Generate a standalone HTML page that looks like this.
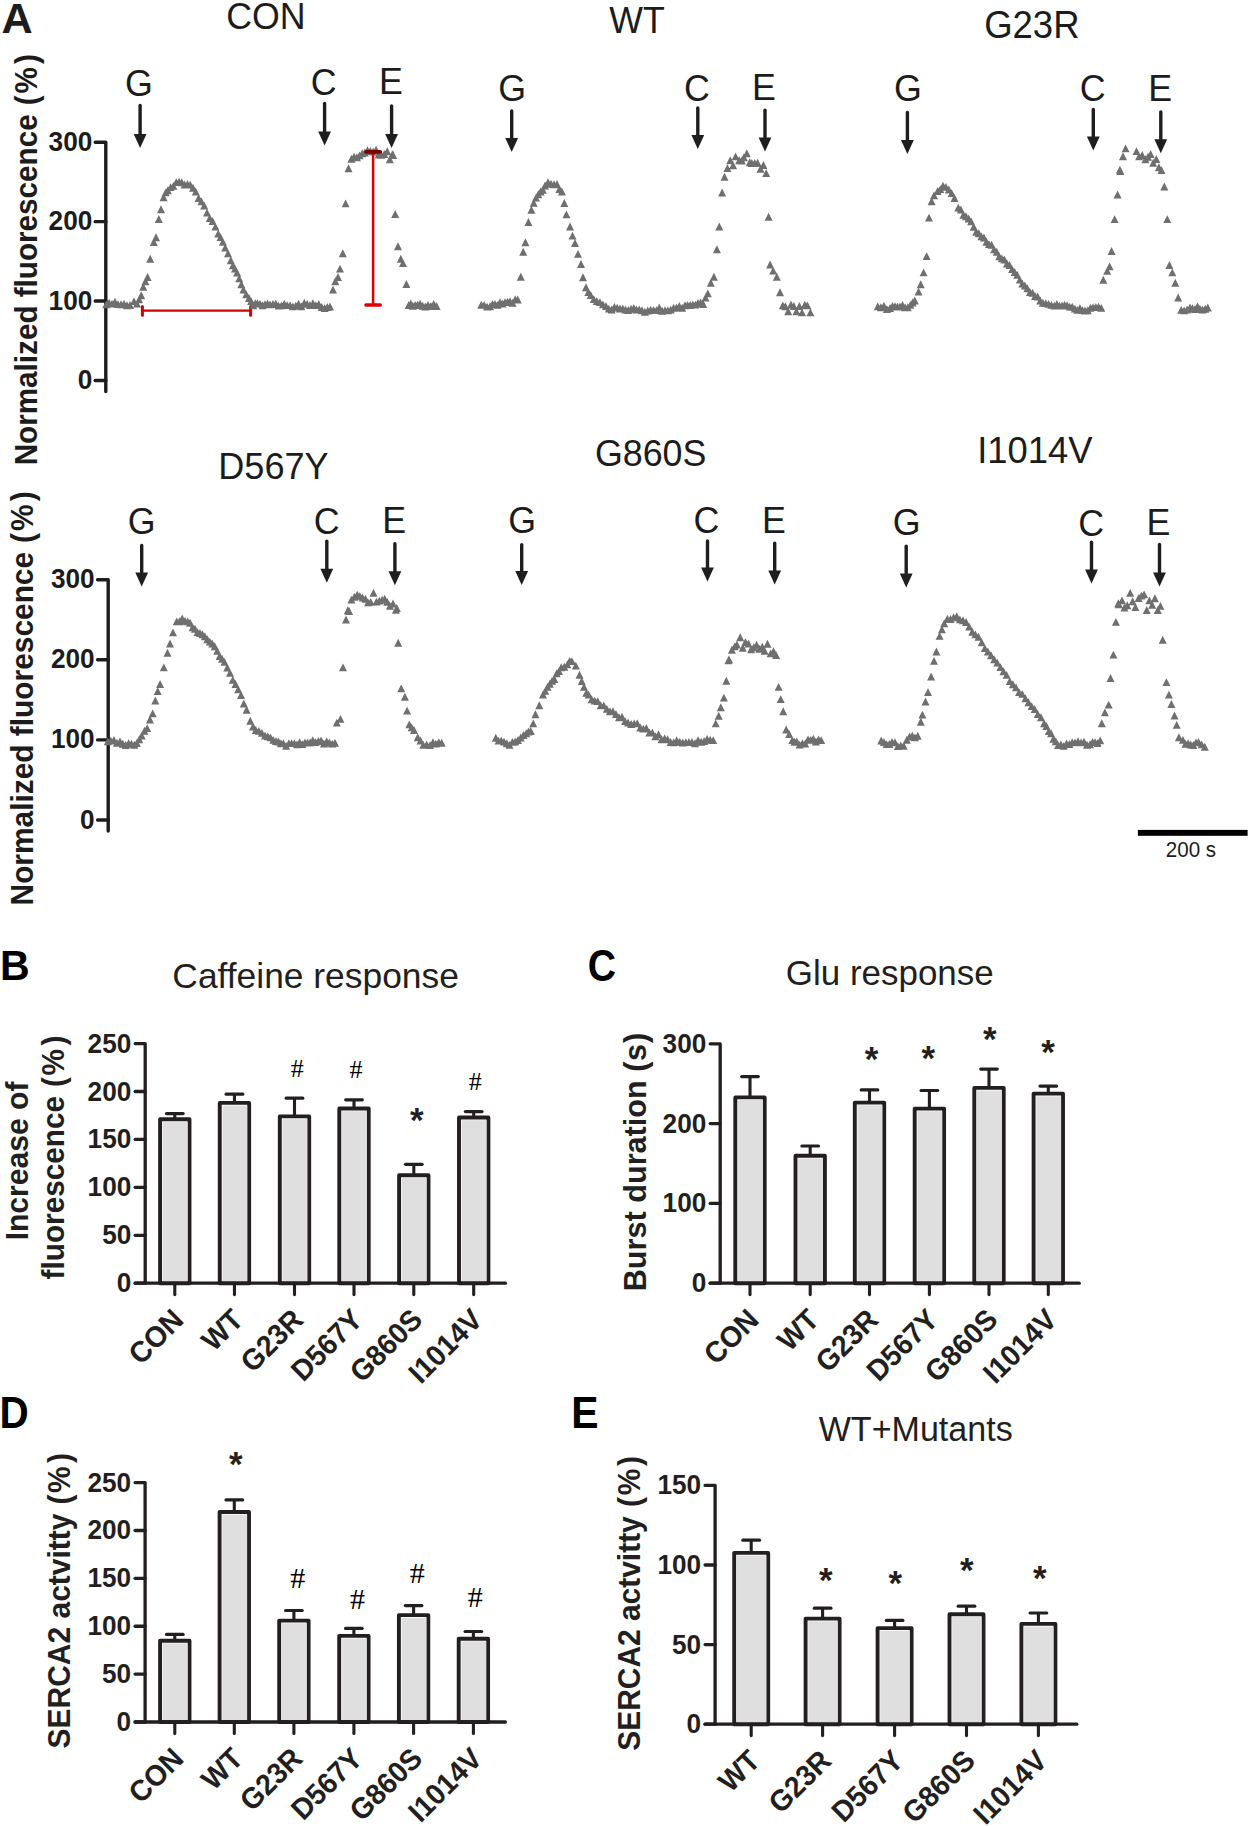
<!DOCTYPE html>
<html><head><meta charset="utf-8"><title>Figure</title>
<style>html,body{margin:0;padding:0;background:#fff;}svg{display:block;}</style>
</head><body>
<svg width="1250" height="1826" viewBox="0 0 1250 1826">
<rect width="1250" height="1826" fill="#fff"/>
<text x="1.42" y="33" font-family="'Liberation Sans', Arial, sans-serif" font-size="43.2" font-weight="bold" fill="#1c1c1c">A</text>
<text transform="translate(226.22,28.8) scale(1.0,1.04)" font-family="'Liberation Sans', Arial, sans-serif" font-size="35.7" font-weight="normal" fill="#1c1c1c">CON</text>
<text transform="translate(609.3,33) scale(1.0,1.04)" font-family="'Liberation Sans', Arial, sans-serif" font-size="35.7" font-weight="normal" fill="#1c1c1c">WT</text>
<text transform="translate(984.17,37.6) scale(1.0,1.04)" font-family="'Liberation Sans', Arial, sans-serif" font-size="36.5" font-weight="normal" fill="#1c1c1c">G23R</text>
<text transform="translate(218.31,478.8) scale(1.0,1.04)" font-family="'Liberation Sans', Arial, sans-serif" font-size="36.1" font-weight="normal" fill="#1c1c1c">D567Y</text>
<text transform="translate(594.91,465.7) scale(1.0,1.04)" font-family="'Liberation Sans', Arial, sans-serif" font-size="35.8" font-weight="normal" fill="#1c1c1c">G860S</text>
<text transform="translate(977.22,463) scale(1.0,1.04)" font-family="'Liberation Sans', Arial, sans-serif" font-size="36.4" font-weight="normal" fill="#1c1c1c">I1014V</text>
<line x1="140.1" y1="105.5" x2="140.1" y2="135" stroke="#1e1e1e" stroke-width="3.4" stroke-linecap="round"/>
<path d="M133.7 134H146.5L140.1 148Z" fill="#1e1e1e"/>
<line x1="324.6" y1="103.5" x2="324.6" y2="132.6" stroke="#1e1e1e" stroke-width="3.4" stroke-linecap="round"/>
<path d="M318.2 131.6H331L324.6 145.6Z" fill="#1e1e1e"/>
<line x1="391.6" y1="105.9" x2="391.6" y2="135" stroke="#1e1e1e" stroke-width="3.4" stroke-linecap="round"/>
<path d="M385.2 134H398L391.6 148Z" fill="#1e1e1e"/>
<text transform="translate(124.99,96) scale(1.0,1.04)" font-family="'Liberation Sans', Arial, sans-serif" font-size="35.8" font-weight="normal" fill="#1c1c1c">G</text>
<text transform="translate(310.64,95) scale(1.0,1.04)" font-family="'Liberation Sans', Arial, sans-serif" font-size="35.8" font-weight="normal" fill="#1c1c1c">C</text>
<text transform="translate(378.88,94) scale(1.0,1.04)" font-family="'Liberation Sans', Arial, sans-serif" font-size="35.8" font-weight="normal" fill="#1c1c1c">E</text>
<line x1="511.7" y1="111" x2="511.7" y2="139" stroke="#1e1e1e" stroke-width="3.4" stroke-linecap="round"/>
<path d="M505.3 138H518.1L511.7 152Z" fill="#1e1e1e"/>
<line x1="697.8" y1="107.9" x2="697.8" y2="136" stroke="#1e1e1e" stroke-width="3.4" stroke-linecap="round"/>
<path d="M691.4 135H704.2L697.8 149Z" fill="#1e1e1e"/>
<line x1="765" y1="110.3" x2="765" y2="138.4" stroke="#1e1e1e" stroke-width="3.4" stroke-linecap="round"/>
<path d="M758.6 137.4H771.4L765 151.4Z" fill="#1e1e1e"/>
<text transform="translate(498.19,101) scale(1.0,1.04)" font-family="'Liberation Sans', Arial, sans-serif" font-size="35.8" font-weight="normal" fill="#1c1c1c">G</text>
<text transform="translate(684.04,101.3) scale(1.0,1.04)" font-family="'Liberation Sans', Arial, sans-serif" font-size="35.8" font-weight="normal" fill="#1c1c1c">C</text>
<text transform="translate(752.08,100.2) scale(1.0,1.04)" font-family="'Liberation Sans', Arial, sans-serif" font-size="35.8" font-weight="normal" fill="#1c1c1c">E</text>
<line x1="907.4" y1="112.5" x2="907.4" y2="141" stroke="#1e1e1e" stroke-width="3.4" stroke-linecap="round"/>
<path d="M901 140H913.8L907.4 154Z" fill="#1e1e1e"/>
<line x1="1093.3" y1="109.5" x2="1093.3" y2="137.4" stroke="#1e1e1e" stroke-width="3.4" stroke-linecap="round"/>
<path d="M1086.9 136.4H1099.7L1093.3 150.4Z" fill="#1e1e1e"/>
<line x1="1160.8" y1="111.9" x2="1160.8" y2="140.3" stroke="#1e1e1e" stroke-width="3.4" stroke-linecap="round"/>
<path d="M1154.4 139.3H1167.2L1160.8 153.3Z" fill="#1e1e1e"/>
<text transform="translate(893.89,100.6) scale(1.0,1.04)" font-family="'Liberation Sans', Arial, sans-serif" font-size="35.8" font-weight="normal" fill="#1c1c1c">G</text>
<text transform="translate(1079.64,101) scale(1.0,1.04)" font-family="'Liberation Sans', Arial, sans-serif" font-size="35.8" font-weight="normal" fill="#1c1c1c">C</text>
<text transform="translate(1148.28,100.6) scale(1.0,1.04)" font-family="'Liberation Sans', Arial, sans-serif" font-size="35.8" font-weight="normal" fill="#1c1c1c">E</text>
<line x1="141.7" y1="545.5" x2="141.7" y2="573.4" stroke="#1e1e1e" stroke-width="3.4" stroke-linecap="round"/>
<path d="M135.3 572.4H148.1L141.7 586.4Z" fill="#1e1e1e"/>
<line x1="326.8" y1="541.2" x2="326.8" y2="569.7" stroke="#1e1e1e" stroke-width="3.4" stroke-linecap="round"/>
<path d="M320.4 568.7H333.2L326.8 582.7Z" fill="#1e1e1e"/>
<line x1="394.9" y1="543.8" x2="394.9" y2="572.3" stroke="#1e1e1e" stroke-width="3.4" stroke-linecap="round"/>
<path d="M388.5 571.3H401.3L394.9 585.3Z" fill="#1e1e1e"/>
<text transform="translate(127.79,533.8) scale(1.0,1.04)" font-family="'Liberation Sans', Arial, sans-serif" font-size="35.8" font-weight="normal" fill="#1c1c1c">G</text>
<text transform="translate(313.74,534) scale(1.0,1.04)" font-family="'Liberation Sans', Arial, sans-serif" font-size="35.8" font-weight="normal" fill="#1c1c1c">C</text>
<text transform="translate(382.18,533.3) scale(1.0,1.04)" font-family="'Liberation Sans', Arial, sans-serif" font-size="35.8" font-weight="normal" fill="#1c1c1c">E</text>
<line x1="521.7" y1="544.6" x2="521.7" y2="572" stroke="#1e1e1e" stroke-width="3.4" stroke-linecap="round"/>
<path d="M515.3 571H528.1L521.7 585Z" fill="#1e1e1e"/>
<line x1="707.5" y1="541" x2="707.5" y2="568.4" stroke="#1e1e1e" stroke-width="3.4" stroke-linecap="round"/>
<path d="M701.1 567.4H713.9L707.5 581.4Z" fill="#1e1e1e"/>
<line x1="774.7" y1="543.1" x2="774.7" y2="571.5" stroke="#1e1e1e" stroke-width="3.4" stroke-linecap="round"/>
<path d="M768.3 570.5H781.1L774.7 584.5Z" fill="#1e1e1e"/>
<text transform="translate(508.19,533.3) scale(1.0,1.04)" font-family="'Liberation Sans', Arial, sans-serif" font-size="35.8" font-weight="normal" fill="#1c1c1c">G</text>
<text transform="translate(693.54,533.3) scale(1.0,1.04)" font-family="'Liberation Sans', Arial, sans-serif" font-size="35.8" font-weight="normal" fill="#1c1c1c">C</text>
<text transform="translate(762.08,533.2) scale(1.0,1.04)" font-family="'Liberation Sans', Arial, sans-serif" font-size="35.8" font-weight="normal" fill="#1c1c1c">E</text>
<line x1="906.2" y1="546.3" x2="906.2" y2="574.6" stroke="#1e1e1e" stroke-width="3.4" stroke-linecap="round"/>
<path d="M899.8 573.6H912.6L906.2 587.6Z" fill="#1e1e1e"/>
<line x1="1091.5" y1="542.3" x2="1091.5" y2="570.5" stroke="#1e1e1e" stroke-width="3.4" stroke-linecap="round"/>
<path d="M1085.1 569.5H1097.9L1091.5 583.5Z" fill="#1e1e1e"/>
<line x1="1159.5" y1="544.5" x2="1159.5" y2="573.6" stroke="#1e1e1e" stroke-width="3.4" stroke-linecap="round"/>
<path d="M1153.1 572.6H1165.9L1159.5 586.6Z" fill="#1e1e1e"/>
<text transform="translate(892.69,535.1) scale(1.0,1.04)" font-family="'Liberation Sans', Arial, sans-serif" font-size="35.8" font-weight="normal" fill="#1c1c1c">G</text>
<text transform="translate(1078.24,535.5) scale(1.0,1.04)" font-family="'Liberation Sans', Arial, sans-serif" font-size="35.8" font-weight="normal" fill="#1c1c1c">C</text>
<text transform="translate(1146.58,534.5) scale(1.0,1.04)" font-family="'Liberation Sans', Arial, sans-serif" font-size="35.8" font-weight="normal" fill="#1c1c1c">E</text>
<path d="M95.2 142.2H105.8V391.5" fill="none" stroke="#1c1c1c" stroke-width="3.4" stroke-linejoin="round" stroke-linecap="round"/>
<line x1="95.2" y1="221.63" x2="105.8" y2="221.63" stroke="#1c1c1c" stroke-width="3.4" stroke-linecap="round"/>
<line x1="95.2" y1="301.07" x2="105.8" y2="301.07" stroke="#1c1c1c" stroke-width="3.4" stroke-linecap="round"/>
<line x1="95.2" y1="380.5" x2="105.8" y2="380.5" stroke="#1c1c1c" stroke-width="3.4" stroke-linecap="round"/>
<text transform="translate(48.59,150.7) scale(1.0,1.04)" font-family="'Liberation Sans', Arial, sans-serif" font-size="26.2" font-weight="bold" fill="#1c1c1c">300</text>
<text transform="translate(48.59,230.13) scale(1.0,1.04)" font-family="'Liberation Sans', Arial, sans-serif" font-size="26.2" font-weight="bold" fill="#1c1c1c">200</text>
<text transform="translate(48.59,309.57) scale(1.0,1.04)" font-family="'Liberation Sans', Arial, sans-serif" font-size="26.2" font-weight="bold" fill="#1c1c1c">100</text>
<text transform="translate(77.68,389) scale(1.0,1.04)" font-family="'Liberation Sans', Arial, sans-serif" font-size="26.2" font-weight="bold" fill="#1c1c1c">0</text>
<path d="M97.6 579.7H108.2V831" fill="none" stroke="#1c1c1c" stroke-width="3.4" stroke-linejoin="round" stroke-linecap="round"/>
<line x1="97.6" y1="659.8" x2="108.2" y2="659.8" stroke="#1c1c1c" stroke-width="3.4" stroke-linecap="round"/>
<line x1="97.6" y1="739.9" x2="108.2" y2="739.9" stroke="#1c1c1c" stroke-width="3.4" stroke-linecap="round"/>
<line x1="97.6" y1="820" x2="108.2" y2="820" stroke="#1c1c1c" stroke-width="3.4" stroke-linecap="round"/>
<text transform="translate(50.99,588.2) scale(1.0,1.04)" font-family="'Liberation Sans', Arial, sans-serif" font-size="26.2" font-weight="bold" fill="#1c1c1c">300</text>
<text transform="translate(50.99,668.3) scale(1.0,1.04)" font-family="'Liberation Sans', Arial, sans-serif" font-size="26.2" font-weight="bold" fill="#1c1c1c">200</text>
<text transform="translate(50.99,748.4) scale(1.0,1.04)" font-family="'Liberation Sans', Arial, sans-serif" font-size="26.2" font-weight="bold" fill="#1c1c1c">100</text>
<text transform="translate(80.08,828.5) scale(1.0,1.04)" font-family="'Liberation Sans', Arial, sans-serif" font-size="26.2" font-weight="bold" fill="#1c1c1c">0</text>
<text transform="translate(36.7,465.33) rotate(-90) scale(1,1.04)" font-family="'Liberation Sans', Arial, sans-serif" font-size="29.66" font-weight="bold" fill="#1c1c1c">Normalized fluorescence</text>
<text transform="translate(36.7,105.33) rotate(-90) scale(1,1.04)" font-family="'Liberation Sans', Arial, sans-serif" font-size="29.66" font-weight="bold" fill="#1c1c1c">(</text>
<text transform="translate(36.7,93.39) rotate(-90) scale(1,1.04)" font-family="'Liberation Sans', Arial, sans-serif" font-size="29.66" font-weight="bold" fill="#1c1c1c">%</text>
<text transform="translate(36.7,64) rotate(-90) scale(1,1.04)" font-family="'Liberation Sans', Arial, sans-serif" font-size="29.66" font-weight="bold" fill="#1c1c1c">)</text>
<text transform="translate(32.8,905.44) rotate(-90) scale(1,1.04)" font-family="'Liberation Sans', Arial, sans-serif" font-size="29.88" font-weight="bold" fill="#1c1c1c">Normalized fluorescence</text>
<text transform="translate(32.8,542.94) rotate(-90) scale(1,1.04)" font-family="'Liberation Sans', Arial, sans-serif" font-size="29.88" font-weight="bold" fill="#1c1c1c">(</text>
<text transform="translate(32.8,531.1) rotate(-90) scale(1,1.04)" font-family="'Liberation Sans', Arial, sans-serif" font-size="29.88" font-weight="bold" fill="#1c1c1c">%</text>
<text transform="translate(32.8,501.2) rotate(-90) scale(1,1.04)" font-family="'Liberation Sans', Arial, sans-serif" font-size="29.88" font-weight="bold" fill="#1c1c1c">)</text>
<g stroke="#d30000" fill="none" stroke-linecap="round">
<line x1="142.4" y1="310.6" x2="250.6" y2="310.6" stroke-width="2.2" stroke-linecap="butt"/>
<line x1="142.4" y1="306.6" x2="142.4" y2="315.2" stroke-width="3"/>
<line x1="250.6" y1="306.6" x2="250.6" y2="315.2" stroke-width="3"/>
</g>
<path d="M106.2 300.35l4 7.9h-8zM109.1 298.65l4 7.9h-8zM112 299.65l4 7.9h-8zM115 297.84l4 7.9h-8zM118 300.19l4 7.9h-8zM121 300.26l4 7.9h-8zM124 299.78l4 7.9h-8zM127 301.33l4 7.9h-8zM130 301.05l4 7.9h-8zM134 297.2l4 7.9h-8zM137 299.65l4 7.9h-8zM139.1 295.24l4 7.9h-8zM141.2 291.25l4 7.9h-8zM143.3 282.87l4 7.9h-8zM145.4 277.25l4 7.9h-8zM147.6 273.05l4 7.9h-8zM150.2 254.85l4 7.9h-8zM153.8 238.05l4 7.9h-8zM156 233.35l4 7.9h-8zM158.8 215.05l4 7.9h-8zM161 205.25l4 7.9h-8zM163.6 193.25l4 7.9h-8zM165.7 188.44l4 7.9h-8zM167.8 186.25l4 7.9h-8zM170.6 183.21l4 7.9h-8zM173.4 181.96l4 7.9h-8zM176.2 178.21l4 7.9h-8zM179 177.68l4 7.9h-8zM181.8 178.36l4 7.9h-8zM184.6 180.57l4 7.9h-8zM187.4 180.03l4 7.9h-8zM190.2 180.65l4 7.9h-8zM193 183.82l4 7.9h-8zM195.8 187.65l4 7.9h-8zM198.6 194.07l4 7.9h-8zM201.4 197.45l4 7.9h-8zM204.2 201.6l4 7.9h-8zM207 208.65l4 7.9h-8zM209.8 214l4 7.9h-8zM212.6 217.05l4 7.9h-8zM215.4 222.68l4 7.9h-8zM218.2 229.65l4 7.9h-8zM220.53 233.18l4 7.9h-8zM222.87 237.76l4 7.9h-8zM225.2 243.65l4 7.9h-8zM228 249.34l4 7.9h-8zM230.8 256.25l4 7.9h-8zM232.9 261.46l4 7.9h-8zM235 264.65l4 7.9h-8zM237.1 268.53l4 7.9h-8zM239.2 274.45l4 7.9h-8zM241.3 280.31l4 7.9h-8zM243.4 285.65l4 7.9h-8zM246.2 290.29l4 7.9h-8zM249 294.05l4 7.9h-8zM251.1 297.14l4 7.9h-8zM253.2 301.24l4 7.9h-8zM255.3 299.3l4 7.9h-8zM257.4 299.29l4 7.9h-8zM259.92 299.67l4 7.9h-8zM262.44 301.37l4 7.9h-8zM264.96 300.16l4 7.9h-8zM267.48 299.51l4 7.9h-8zM270 300.39l4 7.9h-8zM272.86 300.01l4 7.9h-8zM275.71 299.53l4 7.9h-8zM278.57 301.66l4 7.9h-8zM281.43 301.42l4 7.9h-8zM284.29 299.74l4 7.9h-8zM287.14 301.2l4 7.9h-8zM290 301.15l4 7.9h-8zM292.86 302.41l4 7.9h-8zM295.71 301.68l4 7.9h-8zM298.57 299.77l4 7.9h-8zM301.43 302.4l4 7.9h-8zM304.29 298.81l4 7.9h-8zM307.14 299.87l4 7.9h-8zM310 301.08l4 7.9h-8zM312.92 299.26l4 7.9h-8zM315.84 301.21l4 7.9h-8zM318.76 300.01l4 7.9h-8zM321.68 303.12l4 7.9h-8zM324.6 304.11l4 7.9h-8zM327.3 303.09l4 7.9h-8zM330 302.55l4 7.9h-8zM333 285.65l4 7.9h-8zM335.3 277.25l4 7.9h-8zM338 273.05l4 7.9h-8zM340 264.65l4 7.9h-8zM342.8 249.25l4 7.9h-8zM345.6 199.45l4 7.9h-8zM348.5 164.35l4 7.9h-8zM351.4 154.75l4 7.9h-8zM354 152.65l4 7.9h-8zM356.9 153.35l4 7.9h-8zM359.6 151.45l4 7.9h-8zM362.2 149.25l4 7.9h-8zM364.8 148.55l4 7.9h-8zM367.5 146.35l4 7.9h-8zM370.4 147.05l4 7.9h-8zM373.2 147.55l4 7.9h-8zM376.1 145.65l4 7.9h-8zM378.7 150.55l4 7.9h-8zM381.4 150.95l4 7.9h-8zM384.3 150.05l4 7.9h-8zM387.2 147.35l4 7.9h-8zM389.8 155.25l4 7.9h-8zM392.4 150.25l4 7.9h-8zM393.2 151.05l4 7.9h-8zM395.2 210.05l4 7.9h-8zM398 242.25l4 7.9h-8zM400.8 254.85l4 7.9h-8zM403 259.05l4 7.9h-8zM406.4 280.05l4 7.9h-8zM408.6 301.15l4 7.9h-8zM410.7 299.6l4 7.9h-8zM412.8 301.83l4 7.9h-8zM415.2 301.09l4 7.9h-8zM417.6 300.7l4 7.9h-8zM420 299.87l4 7.9h-8zM422.67 301.74l4 7.9h-8zM425.33 302.5l4 7.9h-8zM428 300.95l4 7.9h-8zM430.87 302.04l4 7.9h-8zM433.73 299.96l4 7.9h-8zM436.6 302.05l4 7.9h-8z" fill="#6f6f6f"/>
<path d="M481.3 300.86l4 7.9h-8zM484.2 300.97l4 7.9h-8zM487.1 302.69l4 7.9h-8zM490 302.34l4 7.9h-8zM492.5 299.94l4 7.9h-8zM495 300.09l4 7.9h-8zM497.5 300.97l4 7.9h-8zM500 298.14l4 7.9h-8zM502.5 299.65l4 7.9h-8zM505 298.22l4 7.9h-8zM507.5 297.77l4 7.9h-8zM510 297.29l4 7.9h-8zM512.6 298.96l4 7.9h-8zM515.2 295.23l4 7.9h-8zM517.8 295.55l4 7.9h-8zM520.8 272.75l4 7.9h-8zM523.2 247.75l4 7.9h-8zM525.4 238.35l4 7.9h-8zM528.4 218.05l4 7.9h-8zM531.4 205.85l4 7.9h-8zM533.7 198.94l4 7.9h-8zM536 193.65l4 7.9h-8zM538.3 190.25l4 7.9h-8zM540.6 187.55l4 7.9h-8zM542.8 185.74l4 7.9h-8zM545 181.55l4 7.9h-8zM548 178.37l4 7.9h-8zM551 179.85l4 7.9h-8zM554 180.25l4 7.9h-8zM557 180.05l4 7.9h-8zM559.45 185.03l4 7.9h-8zM561.9 187.55l4 7.9h-8zM564.3 199.05l4 7.9h-8zM566.4 210.45l4 7.9h-8zM570 222.55l4 7.9h-8zM572.5 231.65l4 7.9h-8zM575 239.05l4 7.9h-8zM578 249.95l4 7.9h-8zM581 260.05l4 7.9h-8zM583 273.35l4 7.9h-8zM586 283.35l4 7.9h-8zM588.35 288.22l4 7.9h-8zM590.7 291.05l4 7.9h-8zM593.75 295.21l4 7.9h-8zM596.8 297.05l4 7.9h-8zM599.87 298.17l4 7.9h-8zM602.93 300.45l4 7.9h-8zM606 301.99l4 7.9h-8zM608.8 304.69l4 7.9h-8zM611.6 305.58l4 7.9h-8zM614.4 302.95l4 7.9h-8zM617.2 303.65l4 7.9h-8zM620 304.48l4 7.9h-8zM622.75 304.55l4 7.9h-8zM625.5 305.61l4 7.9h-8zM628.25 306.09l4 7.9h-8zM631 304.85l4 7.9h-8zM633.75 303.88l4 7.9h-8zM636.5 305.6l4 7.9h-8zM639.25 305.46l4 7.9h-8zM642 306.32l4 7.9h-8zM644.88 307.74l4 7.9h-8zM647.75 306.56l4 7.9h-8zM650.62 305.74l4 7.9h-8zM653.5 306.02l4 7.9h-8zM656.38 306.13l4 7.9h-8zM659.25 303.52l4 7.9h-8zM662.12 306.77l4 7.9h-8zM665 306.17l4 7.9h-8zM667.86 306.26l4 7.9h-8zM670.71 305.67l4 7.9h-8zM673.57 303.76l4 7.9h-8zM676.43 303.5l4 7.9h-8zM679.29 302.04l4 7.9h-8zM682.14 303.87l4 7.9h-8zM685 301.3l4 7.9h-8zM687.6 300.89l4 7.9h-8zM690.2 301.03l4 7.9h-8zM692.8 300.41l4 7.9h-8zM695.4 300.7l4 7.9h-8zM698 299.12l4 7.9h-8zM700.6 298.48l4 7.9h-8zM703.2 300.05l4 7.9h-8zM705.5 293.63l4 7.9h-8zM707.8 289.45l4 7.9h-8zM710.8 278.85l4 7.9h-8zM713.9 272.75l4 7.9h-8zM716.9 245.35l4 7.9h-8zM719.3 222.55l4 7.9h-8zM722.1 188.55l4 7.9h-8zM724.5 172.75l4 7.9h-8zM727.4 164.15l4 7.9h-8zM730.2 156.25l4 7.9h-8zM733.1 161.25l4 7.9h-8zM735.6 152.45l4 7.9h-8zM739.2 156.25l4 7.9h-8zM741.8 156.55l4 7.9h-8zM743.9 153.35l4 7.9h-8zM746.8 149.25l4 7.9h-8zM749.7 158.35l4 7.9h-8zM751.8 159.05l4 7.9h-8zM754.7 159.05l4 7.9h-8zM757.6 158.75l4 7.9h-8zM760.5 164.85l4 7.9h-8zM763.4 161.05l4 7.9h-8zM766.2 169.15l4 7.9h-8zM768.6 212.85l4 7.9h-8zM770.1 260.55l4 7.9h-8zM773.2 266.65l4 7.9h-8zM776.8 272.75l4 7.9h-8zM780 288.25l4 7.9h-8zM782.8 301.45l4 7.9h-8zM785.4 302.25l4 7.9h-8zM788.2 307.25l4 7.9h-8zM791 300.65l4 7.9h-8zM793.8 302.05l4 7.9h-8zM796.4 307.25l4 7.9h-8zM799.4 302.05l4 7.9h-8zM802 308.45l4 7.9h-8zM804.8 300.85l4 7.9h-8zM807.4 301.45l4 7.9h-8zM810.4 308.45l4 7.9h-8z" fill="#6f6f6f"/>
<path d="M877.8 302.36l4 7.9h-8zM880.85 303.3l4 7.9h-8zM883.9 301.85l4 7.9h-8zM886.95 305.15l4 7.9h-8zM890 304.01l4 7.9h-8zM892.5 302.02l4 7.9h-8zM895 302.31l4 7.9h-8zM897.5 302.56l4 7.9h-8zM900 302.51l4 7.9h-8zM902.58 301.02l4 7.9h-8zM905.15 303.4l4 7.9h-8zM907.72 303.45l4 7.9h-8zM910.3 300.95l4 7.9h-8zM912.55 298.61l4 7.9h-8zM914.8 296.55l4 7.9h-8zM918.6 287.65l4 7.9h-8zM920.7 280.25l4 7.9h-8zM923.6 268.45l4 7.9h-8zM926.6 252.15l4 7.9h-8zM929 213.65l4 7.9h-8zM931.6 197.35l4 7.9h-8zM934 191.45l4 7.9h-8zM937.6 187.05l4 7.9h-8zM940.3 185.19l4 7.9h-8zM943 181.79l4 7.9h-8zM945.9 182.91l4 7.9h-8zM948.8 185.55l4 7.9h-8zM951.65 189.17l4 7.9h-8zM954.5 194.05l4 7.9h-8zM958.3 203.65l4 7.9h-8zM960.87 205.61l4 7.9h-8zM963.43 210.77l4 7.9h-8zM966 212.35l4 7.9h-8zM968.57 214.5l4 7.9h-8zM971.13 217.44l4 7.9h-8zM973.7 222.85l4 7.9h-8zM976.27 227.85l4 7.9h-8zM978.83 229.36l4 7.9h-8zM981.4 232.45l4 7.9h-8zM983.93 233.6l4 7.9h-8zM986.47 237.76l4 7.9h-8zM989 240.15l4 7.9h-8zM991.57 240.82l4 7.9h-8zM994.13 245.4l4 7.9h-8zM996.7 247.85l4 7.9h-8zM999.27 252.33l4 7.9h-8zM1001.83 254.44l4 7.9h-8zM1004.4 255.55l4 7.9h-8zM1006.97 259.53l4 7.9h-8zM1009.53 260.99l4 7.9h-8zM1012.1 265.15l4 7.9h-8zM1014.67 268.12l4 7.9h-8zM1017.23 270.82l4 7.9h-8zM1019.8 275.65l4 7.9h-8zM1022.33 279.64l4 7.9h-8zM1024.87 281.58l4 7.9h-8zM1027.4 284.35l4 7.9h-8zM1029.97 288.03l4 7.9h-8zM1032.53 288.8l4 7.9h-8zM1035.1 292.05l4 7.9h-8zM1037.67 292.54l4 7.9h-8zM1040.23 296.5l4 7.9h-8zM1042.8 298.79l4 7.9h-8zM1045.67 299.21l4 7.9h-8zM1048.55 299.97l4 7.9h-8zM1051.42 300.97l4 7.9h-8zM1054.3 301.61l4 7.9h-8zM1056.87 300.04l4 7.9h-8zM1059.43 301.69l4 7.9h-8zM1062 301.52l4 7.9h-8zM1064.57 300.7l4 7.9h-8zM1067.13 301.18l4 7.9h-8zM1069.7 302.67l4 7.9h-8zM1072.25 302.75l4 7.9h-8zM1074.8 304.65l4 7.9h-8zM1077.35 305.88l4 7.9h-8zM1079.9 304.01l4 7.9h-8zM1082.45 306.13l4 7.9h-8zM1085 306.5l4 7.9h-8zM1087.72 306.27l4 7.9h-8zM1090.43 303.81l4 7.9h-8zM1093.15 303.13l4 7.9h-8zM1095.87 303.06l4 7.9h-8zM1098.58 302.84l4 7.9h-8zM1101.3 303.95l4 7.9h-8zM1103.3 275.85l4 7.9h-8zM1107.2 266.95l4 7.9h-8zM1109.6 262.45l4 7.9h-8zM1111.6 247.05l4 7.9h-8zM1114.6 215.15l4 7.9h-8zM1117.6 190.55l4 7.9h-8zM1119.9 165.67l4 7.9h-8zM1120.4 167.15l4 7.9h-8zM1123 152.25l4 7.9h-8zM1125.6 144.45l4 7.9h-8zM1136.5 147.15l4 7.9h-8zM1139.1 152.35l4 7.9h-8zM1142.2 151.05l4 7.9h-8zM1145.4 155.25l4 7.9h-8zM1148 152.85l4 7.9h-8zM1150.6 150.05l4 7.9h-8zM1153.2 158.75l4 7.9h-8zM1156.3 155.05l4 7.9h-8zM1158.9 163.25l4 7.9h-8zM1161.5 166.15l4 7.9h-8zM1164.3 182.55l4 7.9h-8zM1167.3 215.15l4 7.9h-8zM1169.4 261.05l4 7.9h-8zM1172.3 268.45l4 7.9h-8zM1175.3 278.75l4 7.9h-8zM1178.2 293.55l4 7.9h-8zM1181.2 305.95l4 7.9h-8zM1184.13 306.42l4 7.9h-8zM1187.07 305.55l4 7.9h-8zM1190 303.47l4 7.9h-8zM1192.5 304.29l4 7.9h-8zM1195 305l4 7.9h-8zM1197.5 302.26l4 7.9h-8zM1200 304.69l4 7.9h-8zM1202.6 305.52l4 7.9h-8zM1205.2 304.85l4 7.9h-8zM1207.8 303.55l4 7.9h-8z" fill="#6f6f6f"/>
<path d="M107.8 737.35l4 7.9h-8zM110.85 736.69l4 7.9h-8zM113.9 735.91l4 7.9h-8zM116.95 738.78l4 7.9h-8zM120 737.38l4 7.9h-8zM122.86 739.79l4 7.9h-8zM125.72 741.02l4 7.9h-8zM128.58 739.25l4 7.9h-8zM131.44 739.82l4 7.9h-8zM134.3 740.75l4 7.9h-8zM136.77 739.11l4 7.9h-8zM139.23 735.34l4 7.9h-8zM141.7 731.55l4 7.9h-8zM144.45 726.79l4 7.9h-8zM147.2 724.15l4 7.9h-8zM149.95 715.61l4 7.9h-8zM152.7 709.45l4 7.9h-8zM155.3 696.55l4 7.9h-8zM157.7 687.18l4 7.9h-8zM160.1 680.05l4 7.9h-8zM163.8 663.45l4 7.9h-8zM167.5 648.75l4 7.9h-8zM170 639.55l4 7.9h-8zM173 628.45l4 7.9h-8zM176.7 617.45l4 7.9h-8zM179.45 617.25l4 7.9h-8zM182.2 614.45l4 7.9h-8zM184.95 616.93l4 7.9h-8zM187.7 617.45l4 7.9h-8zM190.13 618.75l4 7.9h-8zM192.57 623.36l4 7.9h-8zM195 624.75l4 7.9h-8zM197.47 628.15l4 7.9h-8zM199.93 628.99l4 7.9h-8zM202.4 630.35l4 7.9h-8zM204.87 632.3l4 7.9h-8zM207.33 635.37l4 7.9h-8zM209.8 637.65l4 7.9h-8zM212.27 639.54l4 7.9h-8zM214.73 642.23l4 7.9h-8zM217.2 646.85l4 7.9h-8zM219.63 652.06l4 7.9h-8zM222.07 654.73l4 7.9h-8zM224.5 657.95l4 7.9h-8zM227.25 663.54l4 7.9h-8zM230 668.95l4 7.9h-8zM232.75 675.89l4 7.9h-8zM235.5 680.05l4 7.9h-8zM238.25 685.34l4 7.9h-8zM241 691.05l4 7.9h-8zM243.8 699.59l4 7.9h-8zM246.6 705.75l4 7.9h-8zM250.3 716.85l4 7.9h-8zM253.05 722.49l4 7.9h-8zM255.8 726.05l4 7.9h-8zM258.87 726.96l4 7.9h-8zM261.93 728.92l4 7.9h-8zM265 731.55l4 7.9h-8zM267.75 732.26l4 7.9h-8zM270.5 733.47l4 7.9h-8zM273.25 735.95l4 7.9h-8zM276 737.05l4 7.9h-8zM278.47 737.51l4 7.9h-8zM280.93 739.26l4 7.9h-8zM283.4 739.27l4 7.9h-8zM286.15 741.92l4 7.9h-8zM288.9 739.22l4 7.9h-8zM291.65 739.16l4 7.9h-8zM294.4 739.18l4 7.9h-8zM297.03 740.37l4 7.9h-8zM299.66 738.33l4 7.9h-8zM302.29 740.22l4 7.9h-8zM304.91 738.46l4 7.9h-8zM307.54 738.48l4 7.9h-8zM310.17 738.34l4 7.9h-8zM312.8 736.22l4 7.9h-8zM315.57 738l4 7.9h-8zM318.35 737.06l4 7.9h-8zM321.12 736.43l4 7.9h-8zM323.9 739.7l4 7.9h-8zM326.68 737.28l4 7.9h-8zM329.45 738.57l4 7.9h-8zM332.23 739.66l4 7.9h-8zM335 738.85l4 7.9h-8zM336.8 718.65l4 7.9h-8zM340.4 714.95l4 7.9h-8zM343 663.45l4 7.9h-8zM346 615.55l4 7.9h-8zM347.8 606.35l4 7.9h-8zM349.1 607.05l4 7.9h-8zM351.4 595.65l4 7.9h-8zM354.3 592.75l4 7.9h-8zM357.2 590.65l4 7.9h-8zM359.8 591.95l4 7.9h-8zM362.6 593.55l4 7.9h-8zM365.5 594.85l4 7.9h-8zM368.1 598.45l4 7.9h-8zM370.7 597.95l4 7.9h-8zM373.5 588.85l4 7.9h-8zM376.4 597.65l4 7.9h-8zM379.3 596.65l4 7.9h-8zM382.1 595.85l4 7.9h-8zM384.7 594.85l4 7.9h-8zM387.3 597.95l4 7.9h-8zM389.9 601.85l4 7.9h-8zM393 599.55l4 7.9h-8zM395.9 605.75l4 7.9h-8zM396.8 604.05l4 7.9h-8zM398.2 638.75l4 7.9h-8zM401.2 684.45l4 7.9h-8zM404.9 692.85l4 7.9h-8zM407.1 706.65l4 7.9h-8zM409.3 720.45l4 7.9h-8zM411.65 723.43l4 7.9h-8zM414 726.05l4 7.9h-8zM417.7 733.35l4 7.9h-8zM420.5 736.49l4 7.9h-8zM423.3 740.82l4 7.9h-8zM426.65 740.62l4 7.9h-8zM430 741.19l4 7.9h-8zM432.93 738.17l4 7.9h-8zM435.85 739.69l4 7.9h-8zM438.77 738.14l4 7.9h-8zM441.7 738.85l4 7.9h-8z" fill="#6f6f6f"/>
<path d="M495.8 733.76l4 7.9h-8zM498.54 736.66l4 7.9h-8zM501.28 736.52l4 7.9h-8zM504.02 737.66l4 7.9h-8zM506.76 739.37l4 7.9h-8zM509.5 740.9l4 7.9h-8zM512.33 737.96l4 7.9h-8zM515.17 737.57l4 7.9h-8zM518 736.05l4 7.9h-8zM520.73 733.58l4 7.9h-8zM523.47 731.11l4 7.9h-8zM526.2 729.32l4 7.9h-8zM528.5 727.61l4 7.9h-8zM530.8 727.05l4 7.9h-8zM533.2 719.45l4 7.9h-8zM535.4 710.35l4 7.9h-8zM539.3 701.25l4 7.9h-8zM543 690.55l4 7.9h-8zM545.25 686.91l4 7.9h-8zM547.5 682.95l4 7.9h-8zM549.8 679.79l4 7.9h-8zM552.1 676.85l4 7.9h-8zM554.4 675.17l4 7.9h-8zM556.7 669.25l4 7.9h-8zM558.95 667.21l4 7.9h-8zM561.2 663.25l4 7.9h-8zM564.25 662.76l4 7.9h-8zM567.3 660.42l4 7.9h-8zM569.6 656.94l4 7.9h-8zM571.9 657.15l4 7.9h-8zM575.8 661.65l4 7.9h-8zM579.5 670.85l4 7.9h-8zM581.75 677.19l4 7.9h-8zM584 682.95l4 7.9h-8zM586.3 688.88l4 7.9h-8zM588.6 690.55l4 7.9h-8zM591.65 695.23l4 7.9h-8zM594.7 696.65l4 7.9h-8zM597.7 697.21l4 7.9h-8zM600.7 701.25l4 7.9h-8zM603.77 701.43l4 7.9h-8zM606.83 704.97l4 7.9h-8zM609.9 707.25l4 7.9h-8zM612.93 707.23l4 7.9h-8zM615.97 710.07l4 7.9h-8zM619 713.35l4 7.9h-8zM622.05 712.85l4 7.9h-8zM625.1 717.13l4 7.9h-8zM628.13 718.59l4 7.9h-8zM631.17 720.04l4 7.9h-8zM634.2 719.45l4 7.9h-8zM637.23 719.32l4 7.9h-8zM640.27 723.55l4 7.9h-8zM643.3 724.69l4 7.9h-8zM646.33 724.12l4 7.9h-8zM649.37 728.58l4 7.9h-8zM652.4 728.55l4 7.9h-8zM655.45 732.32l4 7.9h-8zM658.5 730.25l4 7.9h-8zM661.55 735.3l4 7.9h-8zM664.6 734.24l4 7.9h-8zM667.62 735.35l4 7.9h-8zM670.65 738.11l4 7.9h-8zM673.68 738.23l4 7.9h-8zM676.7 736.3l4 7.9h-8zM679.75 737.78l4 7.9h-8zM682.8 738.51l4 7.9h-8zM685.85 738.21l4 7.9h-8zM688.9 738.03l4 7.9h-8zM691.95 738.12l4 7.9h-8zM695 739.34l4 7.9h-8zM698.05 736.13l4 7.9h-8zM701.1 737.87l4 7.9h-8zM704.12 737.04l4 7.9h-8zM707.15 734.97l4 7.9h-8zM710.18 735.85l4 7.9h-8zM713.2 736.15l4 7.9h-8zM715.7 719.45l4 7.9h-8zM718.7 711.85l4 7.9h-8zM720.8 703.35l4 7.9h-8zM723.9 693.65l4 7.9h-8zM726.3 676.85l4 7.9h-8zM728.4 656.27l4 7.9h-8zM729 655.45l4 7.9h-8zM731.9 645.85l4 7.9h-8zM734.7 642.45l4 7.9h-8zM736.9 640.65l4 7.9h-8zM740.2 633.35l4 7.9h-8zM742.8 643.75l4 7.9h-8zM745.4 638.05l4 7.9h-8zM748.5 639.55l4 7.9h-8zM751.1 645.25l4 7.9h-8zM753.7 643.25l4 7.9h-8zM756.6 640.85l4 7.9h-8zM759.4 644.75l4 7.9h-8zM762.3 642.65l4 7.9h-8zM764.6 646.85l4 7.9h-8zM767.5 639.85l4 7.9h-8zM770.6 649.45l4 7.9h-8zM773.5 647.15l4 7.9h-8zM776.1 651.05l4 7.9h-8zM778.6 682.95l4 7.9h-8zM780.7 695.15l4 7.9h-8zM783.2 707.25l4 7.9h-8zM786.2 725.55l4 7.9h-8zM789.2 730.05l4 7.9h-8zM792.3 736.15l4 7.9h-8zM794.55 737.76l4 7.9h-8zM796.8 737.51l4 7.9h-8zM799.6 740.64l4 7.9h-8zM802.4 739.3l4 7.9h-8zM805.2 739.49l4 7.9h-8zM808 735.47l4 7.9h-8zM810.64 735.93l4 7.9h-8zM813.28 734.85l4 7.9h-8zM815.92 737.63l4 7.9h-8zM818.56 735.41l4 7.9h-8zM821.2 736.15l4 7.9h-8z" fill="#6f6f6f"/>
<path d="M881.2 736.57l4 7.9h-8zM883.9 737.99l4 7.9h-8zM886.6 740.2l4 7.9h-8zM889.3 740.08l4 7.9h-8zM892 738.08l4 7.9h-8zM894.92 738.35l4 7.9h-8zM897.85 742.13l4 7.9h-8zM900.78 741.43l4 7.9h-8zM903.7 741.85l4 7.9h-8zM906.8 735.75l4 7.9h-8zM909.52 732.53l4 7.9h-8zM912.25 731.63l4 7.9h-8zM914.98 733.38l4 7.9h-8zM917.7 731.85l4 7.9h-8zM920.8 717.75l4 7.9h-8zM922.4 710.65l4 7.9h-8zM925.5 697.55l4 7.9h-8zM928 688.15l4 7.9h-8zM931.1 672.55l4 7.9h-8zM934 656.95l4 7.9h-8zM936.4 647.55l4 7.9h-8zM939.6 631.95l4 7.9h-8zM941.9 625.43l4 7.9h-8zM944.2 619.45l4 7.9h-8zM947.35 614.81l4 7.9h-8zM950.5 615l4 7.9h-8zM953.6 613.34l4 7.9h-8zM956.7 612.35l4 7.9h-8zM959.85 615.44l4 7.9h-8zM963 616.35l4 7.9h-8zM966.1 618l4 7.9h-8zM969.2 622.65l4 7.9h-8zM972.3 627.83l4 7.9h-8zM975.4 630.45l4 7.9h-8zM978.55 632.79l4 7.9h-8zM981.7 638.25l4 7.9h-8zM984.8 644.21l4 7.9h-8zM987.9 647.55l4 7.9h-8zM991.05 651.28l4 7.9h-8zM994.2 655.35l4 7.9h-8zM997.3 658.67l4 7.9h-8zM1000.4 663.15l4 7.9h-8zM1003.5 667.24l4 7.9h-8zM1006.6 670.95l4 7.9h-8zM1009.75 677.19l4 7.9h-8zM1012.9 680.35l4 7.9h-8zM1016 683.41l4 7.9h-8zM1019.1 688.15l4 7.9h-8zM1022.25 689.92l4 7.9h-8zM1025.4 694.35l4 7.9h-8zM1028.5 698.35l4 7.9h-8zM1031.6 702.15l4 7.9h-8zM1034.7 705.16l4 7.9h-8zM1037.8 710.05l4 7.9h-8zM1040.95 713.29l4 7.9h-8zM1044.1 719.35l4 7.9h-8zM1046.45 722.03l4 7.9h-8zM1048.8 727.15l4 7.9h-8zM1051.1 729.43l4 7.9h-8zM1053.4 734.95l4 7.9h-8zM1055.75 737.33l4 7.9h-8zM1058.1 741.1l4 7.9h-8zM1060.92 740.6l4 7.9h-8zM1063.73 741.95l4 7.9h-8zM1066.55 739.61l4 7.9h-8zM1069.37 739.98l4 7.9h-8zM1072.18 738.23l4 7.9h-8zM1075 738.44l4 7.9h-8zM1078 737.32l4 7.9h-8zM1081 738.45l4 7.9h-8zM1084 737.71l4 7.9h-8zM1087 740.78l4 7.9h-8zM1090 740.25l4 7.9h-8zM1092.55 737.91l4 7.9h-8zM1095.1 738.15l4 7.9h-8zM1097.65 739.09l4 7.9h-8zM1100.2 736.45l4 7.9h-8zM1101.8 719.35l4 7.9h-8zM1104.9 708.45l4 7.9h-8zM1108.7 700.65l4 7.9h-8zM1110.5 674.05l4 7.9h-8zM1113.4 650.65l4 7.9h-8zM1115.9 617.95l4 7.9h-8zM1118.3 599.25l4 7.9h-8zM1118.9 600.25l4 7.9h-8zM1122 596.45l4 7.9h-8zM1124.4 603.65l4 7.9h-8zM1127.3 601.25l4 7.9h-8zM1130.2 588.95l4 7.9h-8zM1132.6 597.35l4 7.9h-8zM1135.4 603.15l4 7.9h-8zM1138.6 594.05l4 7.9h-8zM1141.4 591.65l4 7.9h-8zM1144.1 590.45l4 7.9h-8zM1146.7 606.05l4 7.9h-8zM1149.4 596.45l4 7.9h-8zM1152.2 600.75l4 7.9h-8zM1154.9 594.25l4 7.9h-8zM1157.8 606.05l4 7.9h-8zM1160.4 601.95l4 7.9h-8zM1162.7 635.75l4 7.9h-8zM1166.4 678.15l4 7.9h-8zM1168.9 690.65l4 7.9h-8zM1171.4 700.05l4 7.9h-8zM1174.5 711.55l4 7.9h-8zM1176.7 720.95l4 7.9h-8zM1178.9 733.35l4 7.9h-8zM1182.9 735.88l4 7.9h-8zM1185.5 739.76l4 7.9h-8zM1188.1 739.25l4 7.9h-8zM1190.7 740.53l4 7.9h-8zM1193.3 741.06l4 7.9h-8zM1195.9 738.46l4 7.9h-8zM1198.5 738.05l4 7.9h-8zM1201.65 740.42l4 7.9h-8zM1204.8 742.75l4 7.9h-8z" fill="#6f6f6f"/>
<line x1="373.1" y1="152" x2="373.1" y2="305" stroke="#e10000" stroke-width="2.5"/>
<line x1="366" y1="151.9" x2="380.2" y2="151.9" stroke="#7a0000" stroke-width="3.6" stroke-linecap="round"/>
<line x1="366" y1="305" x2="380.2" y2="305" stroke="#e10000" stroke-width="3.6" stroke-linecap="round"/>
<rect x="1137.9" y="829.9" width="109.7" height="5.9" fill="#000"/>
<text transform="translate(1165.77,857) scale(1.0,1.04)" font-family="'Liberation Sans', Arial, sans-serif" font-size="20.6" font-weight="normal" fill="#1c1c1c">200 s</text>
<text transform="translate(-0.07,980.1) scale(0.97,1.0)" font-family="'Liberation Sans', Arial, sans-serif" font-size="42.4" font-weight="bold" fill="#000">B</text>
<text transform="translate(587.83,980.5) scale(0.9,1.0)" font-family="'Liberation Sans', Arial, sans-serif" font-size="43.5" font-weight="bold" fill="#000">C</text>
<text transform="translate(-0.43,1427.8) scale(0.93,1.0)" font-family="'Liberation Sans', Arial, sans-serif" font-size="43.5" font-weight="bold" fill="#000">D</text>
<text transform="translate(571.34,1427.6) scale(0.94,1.0)" font-family="'Liberation Sans', Arial, sans-serif" font-size="43.5" font-weight="bold" fill="#000">E</text>
<text x="172.33" y="987.6" font-family="'Liberation Sans', Arial, sans-serif" font-size="35.4" font-weight="normal" fill="#231f20">Caffeine response</text>
<text x="785.85" y="985" font-family="'Liberation Sans', Arial, sans-serif" font-size="34.95" font-weight="normal" fill="#231f20">Glu response</text>
<text transform="translate(818.7,1441.2) scale(0.96,1.0)" font-family="'Liberation Sans', Arial, sans-serif" font-size="35.5" font-weight="normal" fill="#231f20">WT+Mutants</text>
<text transform="translate(27.6,1240.36) rotate(-90) scale(1.0,1.04)" font-family="'Liberation Sans', Arial, sans-serif" font-size="30.1" font-weight="bold" fill="#231f20">Increase of</text>
<text transform="translate(63.7,1279.45) rotate(-90) scale(1,1.04)" font-family="'Liberation Sans', Arial, sans-serif" font-size="29.76" font-weight="bold" fill="#231f20">fluorescence</text>
<text transform="translate(63.7,1086.94) rotate(-90) scale(1,1.04)" font-family="'Liberation Sans', Arial, sans-serif" font-size="29.76" font-weight="bold" fill="#231f20">(</text>
<text transform="translate(63.7,1075.5) rotate(-90) scale(1,1.04)" font-family="'Liberation Sans', Arial, sans-serif" font-size="29.76" font-weight="bold" fill="#231f20">%</text>
<text transform="translate(63.7,1045.6) rotate(-90) scale(1,1.04)" font-family="'Liberation Sans', Arial, sans-serif" font-size="29.76" font-weight="bold" fill="#231f20">)</text>
<text transform="translate(646.1,1291.29) rotate(-90) scale(1,1.04)" font-family="'Liberation Sans', Arial, sans-serif" font-size="30.65" font-weight="bold" fill="#231f20">Burst duration</text>
<text transform="translate(646.1,1071.68) rotate(-90) scale(1,1.04)" font-family="'Liberation Sans', Arial, sans-serif" font-size="30.65" font-weight="bold" fill="#231f20">(</text>
<text transform="translate(646.1,1060.97) rotate(-90) scale(1,1.04)" font-family="'Liberation Sans', Arial, sans-serif" font-size="30.65" font-weight="bold" fill="#231f20">s</text>
<text transform="translate(646.1,1043) rotate(-90) scale(1,1.04)" font-family="'Liberation Sans', Arial, sans-serif" font-size="30.65" font-weight="bold" fill="#231f20">)</text>
<text transform="translate(69.8,1748.45) rotate(-90) scale(1,1.04)" font-family="'Liberation Sans', Arial, sans-serif" font-size="29.99" font-weight="bold" fill="#231f20">SERCA2 actvitty</text>
<text transform="translate(69.8,1504.55) rotate(-90) scale(1,1.04)" font-family="'Liberation Sans', Arial, sans-serif" font-size="29.99" font-weight="bold" fill="#231f20">(</text>
<text transform="translate(69.8,1493.1) rotate(-90) scale(1,1.04)" font-family="'Liberation Sans', Arial, sans-serif" font-size="29.99" font-weight="bold" fill="#231f20">%</text>
<text transform="translate(69.8,1462.9) rotate(-90) scale(1,1.04)" font-family="'Liberation Sans', Arial, sans-serif" font-size="29.99" font-weight="bold" fill="#231f20">)</text>
<text transform="translate(639.8,1750.75) rotate(-90) scale(1,1.04)" font-family="'Liberation Sans', Arial, sans-serif" font-size="29.94" font-weight="bold" fill="#231f20">SERCA2 actvitty</text>
<text transform="translate(639.8,1506.95) rotate(-90) scale(1,1.04)" font-family="'Liberation Sans', Arial, sans-serif" font-size="29.94" font-weight="bold" fill="#231f20">(</text>
<text transform="translate(639.8,1495.3) rotate(-90) scale(1,1.04)" font-family="'Liberation Sans', Arial, sans-serif" font-size="29.94" font-weight="bold" fill="#231f20">%</text>
<text transform="translate(639.8,1466) rotate(-90) scale(1,1.04)" font-family="'Liberation Sans', Arial, sans-serif" font-size="29.94" font-weight="bold" fill="#231f20">)</text>
<path d="M135.2 1043.6H145.2V1283.2" fill="none" stroke="#231f20" stroke-width="3.3" stroke-linejoin="round" stroke-linecap="round"/>
<line x1="135.2" y1="1091.52" x2="145.2" y2="1091.52" stroke="#231f20" stroke-width="3.3" stroke-linecap="round"/>
<line x1="135.2" y1="1139.44" x2="145.2" y2="1139.44" stroke="#231f20" stroke-width="3.3" stroke-linecap="round"/>
<line x1="135.2" y1="1187.36" x2="145.2" y2="1187.36" stroke="#231f20" stroke-width="3.3" stroke-linecap="round"/>
<line x1="135.2" y1="1235.28" x2="145.2" y2="1235.28" stroke="#231f20" stroke-width="3.3" stroke-linecap="round"/>
<line x1="135.2" y1="1283.2" x2="145.2" y2="1283.2" stroke="#231f20" stroke-width="3.3" stroke-linecap="round"/>
<text transform="translate(87.59,1052.6) scale(1.0,1.04)" font-family="'Liberation Sans', Arial, sans-serif" font-size="26.2" font-weight="bold" fill="#231f20">250</text>
<text transform="translate(87.59,1100.52) scale(1.0,1.04)" font-family="'Liberation Sans', Arial, sans-serif" font-size="26.2" font-weight="bold" fill="#231f20">200</text>
<text transform="translate(87.59,1148.44) scale(1.0,1.04)" font-family="'Liberation Sans', Arial, sans-serif" font-size="26.2" font-weight="bold" fill="#231f20">150</text>
<text transform="translate(87.59,1196.36) scale(1.0,1.04)" font-family="'Liberation Sans', Arial, sans-serif" font-size="26.2" font-weight="bold" fill="#231f20">100</text>
<text transform="translate(102.13,1244.28) scale(1.0,1.04)" font-family="'Liberation Sans', Arial, sans-serif" font-size="26.2" font-weight="bold" fill="#231f20">50</text>
<text transform="translate(116.68,1292.2) scale(1.0,1.04)" font-family="'Liberation Sans', Arial, sans-serif" font-size="26.2" font-weight="bold" fill="#231f20">0</text>
<line x1="174.8" y1="1119.2" x2="174.8" y2="1113.6" stroke="#231f20" stroke-width="3.1"/>
<line x1="166.5" y1="1113.6" x2="183.1" y2="1113.6" stroke="#231f20" stroke-width="3.2" stroke-linecap="round"/>
<rect x="160.1" y="1119.2" width="29.4" height="164" fill="#fff" stroke="#231f20" stroke-width="3.9" stroke-linejoin="round"/>
<rect x="162.8" y="1121.9" width="24.8" height="159.4" fill="#dfdfdf"/>
<line x1="174.8" y1="1283.2" x2="174.8" y2="1294.6" stroke="#231f20" stroke-width="3.1" stroke-linecap="round"/>
<line x1="234.45" y1="1102.9" x2="234.45" y2="1094.2" stroke="#231f20" stroke-width="3.1"/>
<line x1="226.15" y1="1094.2" x2="242.75" y2="1094.2" stroke="#231f20" stroke-width="3.2" stroke-linecap="round"/>
<rect x="219.75" y="1102.9" width="29.4" height="180.3" fill="#fff" stroke="#231f20" stroke-width="3.9" stroke-linejoin="round"/>
<rect x="222.45" y="1105.6" width="24.8" height="175.7" fill="#dfdfdf"/>
<line x1="234.45" y1="1283.2" x2="234.45" y2="1294.6" stroke="#231f20" stroke-width="3.1" stroke-linecap="round"/>
<line x1="294.5" y1="1116.4" x2="294.5" y2="1098.2" stroke="#231f20" stroke-width="3.1"/>
<line x1="286.2" y1="1098.2" x2="302.8" y2="1098.2" stroke="#231f20" stroke-width="3.2" stroke-linecap="round"/>
<rect x="279.8" y="1116.4" width="29.4" height="166.8" fill="#fff" stroke="#231f20" stroke-width="3.9" stroke-linejoin="round"/>
<rect x="282.5" y="1119.1" width="24.8" height="162.2" fill="#dfdfdf"/>
<line x1="294.5" y1="1283.2" x2="294.5" y2="1294.6" stroke="#231f20" stroke-width="3.1" stroke-linecap="round"/>
<line x1="354" y1="1108.5" x2="354" y2="1099.8" stroke="#231f20" stroke-width="3.1"/>
<line x1="345.7" y1="1099.8" x2="362.3" y2="1099.8" stroke="#231f20" stroke-width="3.2" stroke-linecap="round"/>
<rect x="339.3" y="1108.5" width="29.4" height="174.7" fill="#fff" stroke="#231f20" stroke-width="3.9" stroke-linejoin="round"/>
<rect x="342" y="1111.2" width="24.8" height="170.1" fill="#dfdfdf"/>
<line x1="354" y1="1283.2" x2="354" y2="1294.6" stroke="#231f20" stroke-width="3.1" stroke-linecap="round"/>
<line x1="413.8" y1="1175.2" x2="413.8" y2="1164.3" stroke="#231f20" stroke-width="3.1"/>
<line x1="405.5" y1="1164.3" x2="422.1" y2="1164.3" stroke="#231f20" stroke-width="3.2" stroke-linecap="round"/>
<rect x="399.1" y="1175.2" width="29.4" height="108" fill="#fff" stroke="#231f20" stroke-width="3.9" stroke-linejoin="round"/>
<rect x="401.8" y="1177.9" width="24.8" height="103.4" fill="#dfdfdf"/>
<line x1="413.8" y1="1283.2" x2="413.8" y2="1294.6" stroke="#231f20" stroke-width="3.1" stroke-linecap="round"/>
<line x1="473.7" y1="1117.5" x2="473.7" y2="1111.6" stroke="#231f20" stroke-width="3.1"/>
<line x1="465.4" y1="1111.6" x2="482" y2="1111.6" stroke="#231f20" stroke-width="3.2" stroke-linecap="round"/>
<rect x="459" y="1117.5" width="29.4" height="165.7" fill="#fff" stroke="#231f20" stroke-width="3.9" stroke-linejoin="round"/>
<rect x="461.7" y="1120.2" width="24.8" height="161.1" fill="#dfdfdf"/>
<line x1="473.7" y1="1283.2" x2="473.7" y2="1294.6" stroke="#231f20" stroke-width="3.1" stroke-linecap="round"/>
<line x1="135.2" y1="1283.2" x2="505.4" y2="1283.2" stroke="#231f20" stroke-width="3.3" stroke-linecap="round"/>
<text transform="translate(185.2,1321.5) rotate(-45) scale(1,1.04)" text-anchor="end" font-family="'Liberation Sans', Arial, sans-serif" font-size="28.3" font-weight="bold" fill="#231f20">CON</text>
<text transform="translate(244.85,1321.5) rotate(-45) scale(1,1.04)" text-anchor="end" font-family="'Liberation Sans', Arial, sans-serif" font-size="28.3" font-weight="bold" fill="#231f20">WT</text>
<text transform="translate(304.9,1321.5) rotate(-45) scale(1,1.04)" text-anchor="end" font-family="'Liberation Sans', Arial, sans-serif" font-size="28.3" font-weight="bold" fill="#231f20">G23R</text>
<text transform="translate(364.4,1321.5) rotate(-45) scale(1,1.04)" text-anchor="end" font-family="'Liberation Sans', Arial, sans-serif" font-size="28.3" font-weight="bold" fill="#231f20">D567Y</text>
<text transform="translate(424.2,1321.5) rotate(-45) scale(1,1.04)" text-anchor="end" font-family="'Liberation Sans', Arial, sans-serif" font-size="28.3" font-weight="bold" fill="#231f20">G860S</text>
<text transform="translate(484.1,1321.5) rotate(-45) scale(1,1.04)" text-anchor="end" font-family="'Liberation Sans', Arial, sans-serif" font-size="28.3" font-weight="bold" fill="#231f20">I1014V</text>
<text x="290.75" y="1076.97" font-family="'Liberation Serif', 'Times New Roman', serif" font-size="26" fill="#000">#</text>
<text x="349.5" y="1078.42" font-family="'Liberation Serif', 'Times New Roman', serif" font-size="26" fill="#000">#</text>
<text x="468.75" y="1090.02" font-family="'Liberation Serif', 'Times New Roman', serif" font-size="26" fill="#000">#</text>
<text x="409.88" y="1132.17" font-family="'Liberation Sans', Arial, sans-serif" font-weight="bold" font-size="35" fill="#231f20">*</text>
<path d="M710.2 1043.8H720.2V1283.2" fill="none" stroke="#231f20" stroke-width="3.3" stroke-linejoin="round" stroke-linecap="round"/>
<line x1="710.2" y1="1123.6" x2="720.2" y2="1123.6" stroke="#231f20" stroke-width="3.3" stroke-linecap="round"/>
<line x1="710.2" y1="1203.4" x2="720.2" y2="1203.4" stroke="#231f20" stroke-width="3.3" stroke-linecap="round"/>
<line x1="710.2" y1="1283.2" x2="720.2" y2="1283.2" stroke="#231f20" stroke-width="3.3" stroke-linecap="round"/>
<text transform="translate(662.59,1052.8) scale(1.0,1.04)" font-family="'Liberation Sans', Arial, sans-serif" font-size="26.2" font-weight="bold" fill="#231f20">300</text>
<text transform="translate(662.59,1132.6) scale(1.0,1.04)" font-family="'Liberation Sans', Arial, sans-serif" font-size="26.2" font-weight="bold" fill="#231f20">200</text>
<text transform="translate(662.59,1212.4) scale(1.0,1.04)" font-family="'Liberation Sans', Arial, sans-serif" font-size="26.2" font-weight="bold" fill="#231f20">100</text>
<text transform="translate(691.68,1292.2) scale(1.0,1.04)" font-family="'Liberation Sans', Arial, sans-serif" font-size="26.2" font-weight="bold" fill="#231f20">0</text>
<line x1="750" y1="1097.4" x2="750" y2="1076.6" stroke="#231f20" stroke-width="3.1"/>
<line x1="741.7" y1="1076.6" x2="758.3" y2="1076.6" stroke="#231f20" stroke-width="3.2" stroke-linecap="round"/>
<rect x="735.3" y="1097.4" width="29.4" height="185.8" fill="#fff" stroke="#231f20" stroke-width="3.9" stroke-linejoin="round"/>
<rect x="738" y="1100.1" width="24.8" height="181.2" fill="#dfdfdf"/>
<line x1="750" y1="1283.2" x2="750" y2="1294.6" stroke="#231f20" stroke-width="3.1" stroke-linecap="round"/>
<line x1="810.2" y1="1155.8" x2="810.2" y2="1146" stroke="#231f20" stroke-width="3.1"/>
<line x1="801.9" y1="1146" x2="818.5" y2="1146" stroke="#231f20" stroke-width="3.2" stroke-linecap="round"/>
<rect x="795.5" y="1155.8" width="29.4" height="127.4" fill="#fff" stroke="#231f20" stroke-width="3.9" stroke-linejoin="round"/>
<rect x="798.2" y="1158.5" width="24.8" height="122.8" fill="#dfdfdf"/>
<line x1="810.2" y1="1283.2" x2="810.2" y2="1294.6" stroke="#231f20" stroke-width="3.1" stroke-linecap="round"/>
<line x1="869.5" y1="1102.6" x2="869.5" y2="1089.9" stroke="#231f20" stroke-width="3.1"/>
<line x1="861.2" y1="1089.9" x2="877.8" y2="1089.9" stroke="#231f20" stroke-width="3.2" stroke-linecap="round"/>
<rect x="854.8" y="1102.6" width="29.4" height="180.6" fill="#fff" stroke="#231f20" stroke-width="3.9" stroke-linejoin="round"/>
<rect x="857.5" y="1105.3" width="24.8" height="176" fill="#dfdfdf"/>
<line x1="869.5" y1="1283.2" x2="869.5" y2="1294.6" stroke="#231f20" stroke-width="3.1" stroke-linecap="round"/>
<line x1="929.4" y1="1108.6" x2="929.4" y2="1090.5" stroke="#231f20" stroke-width="3.1"/>
<line x1="921.1" y1="1090.5" x2="937.7" y2="1090.5" stroke="#231f20" stroke-width="3.2" stroke-linecap="round"/>
<rect x="914.7" y="1108.6" width="29.4" height="174.6" fill="#fff" stroke="#231f20" stroke-width="3.9" stroke-linejoin="round"/>
<rect x="917.4" y="1111.3" width="24.8" height="170" fill="#dfdfdf"/>
<line x1="929.4" y1="1283.2" x2="929.4" y2="1294.6" stroke="#231f20" stroke-width="3.1" stroke-linecap="round"/>
<line x1="989" y1="1087.9" x2="989" y2="1069.1" stroke="#231f20" stroke-width="3.1"/>
<line x1="980.7" y1="1069.1" x2="997.3" y2="1069.1" stroke="#231f20" stroke-width="3.2" stroke-linecap="round"/>
<rect x="974.3" y="1087.9" width="29.4" height="195.3" fill="#fff" stroke="#231f20" stroke-width="3.9" stroke-linejoin="round"/>
<rect x="977" y="1090.6" width="24.8" height="190.7" fill="#dfdfdf"/>
<line x1="989" y1="1283.2" x2="989" y2="1294.6" stroke="#231f20" stroke-width="3.1" stroke-linecap="round"/>
<line x1="1048.3" y1="1093.6" x2="1048.3" y2="1086.1" stroke="#231f20" stroke-width="3.1"/>
<line x1="1040" y1="1086.1" x2="1056.6" y2="1086.1" stroke="#231f20" stroke-width="3.2" stroke-linecap="round"/>
<rect x="1033.6" y="1093.6" width="29.4" height="189.6" fill="#fff" stroke="#231f20" stroke-width="3.9" stroke-linejoin="round"/>
<rect x="1036.3" y="1096.3" width="24.8" height="185" fill="#dfdfdf"/>
<line x1="1048.3" y1="1283.2" x2="1048.3" y2="1294.6" stroke="#231f20" stroke-width="3.1" stroke-linecap="round"/>
<line x1="710.2" y1="1283.2" x2="1079.2" y2="1283.2" stroke="#231f20" stroke-width="3.3" stroke-linecap="round"/>
<text transform="translate(760.4,1321.5) rotate(-45) scale(1,1.04)" text-anchor="end" font-family="'Liberation Sans', Arial, sans-serif" font-size="28.3" font-weight="bold" fill="#231f20">CON</text>
<text transform="translate(820.6,1321.5) rotate(-45) scale(1,1.04)" text-anchor="end" font-family="'Liberation Sans', Arial, sans-serif" font-size="28.3" font-weight="bold" fill="#231f20">WT</text>
<text transform="translate(879.9,1321.5) rotate(-45) scale(1,1.04)" text-anchor="end" font-family="'Liberation Sans', Arial, sans-serif" font-size="28.3" font-weight="bold" fill="#231f20">G23R</text>
<text transform="translate(939.8,1321.5) rotate(-45) scale(1,1.04)" text-anchor="end" font-family="'Liberation Sans', Arial, sans-serif" font-size="28.3" font-weight="bold" fill="#231f20">D567Y</text>
<text transform="translate(999.4,1321.5) rotate(-45) scale(1,1.04)" text-anchor="end" font-family="'Liberation Sans', Arial, sans-serif" font-size="28.3" font-weight="bold" fill="#231f20">G860S</text>
<text transform="translate(1058.7,1321.5) rotate(-45) scale(1,1.04)" text-anchor="end" font-family="'Liberation Sans', Arial, sans-serif" font-size="28.3" font-weight="bold" fill="#231f20">I1014V</text>
<text x="864.77" y="1071.17" font-family="'Liberation Sans', Arial, sans-serif" font-weight="bold" font-size="35" fill="#231f20">*</text>
<text x="921.57" y="1070.47" font-family="'Liberation Sans', Arial, sans-serif" font-weight="bold" font-size="35" fill="#231f20">*</text>
<text x="982.88" y="1051.47" font-family="'Liberation Sans', Arial, sans-serif" font-weight="bold" font-size="35" fill="#231f20">*</text>
<text x="1041.17" y="1064.38" font-family="'Liberation Sans', Arial, sans-serif" font-weight="bold" font-size="35" fill="#231f20">*</text>
<path d="M135.1 1482.6H145.1V1722" fill="none" stroke="#231f20" stroke-width="3.3" stroke-linejoin="round" stroke-linecap="round"/>
<line x1="135.1" y1="1530.48" x2="145.1" y2="1530.48" stroke="#231f20" stroke-width="3.3" stroke-linecap="round"/>
<line x1="135.1" y1="1578.36" x2="145.1" y2="1578.36" stroke="#231f20" stroke-width="3.3" stroke-linecap="round"/>
<line x1="135.1" y1="1626.24" x2="145.1" y2="1626.24" stroke="#231f20" stroke-width="3.3" stroke-linecap="round"/>
<line x1="135.1" y1="1674.12" x2="145.1" y2="1674.12" stroke="#231f20" stroke-width="3.3" stroke-linecap="round"/>
<line x1="135.1" y1="1722" x2="145.1" y2="1722" stroke="#231f20" stroke-width="3.3" stroke-linecap="round"/>
<text transform="translate(87.49,1491.6) scale(1.0,1.04)" font-family="'Liberation Sans', Arial, sans-serif" font-size="26.2" font-weight="bold" fill="#231f20">250</text>
<text transform="translate(87.49,1539.48) scale(1.0,1.04)" font-family="'Liberation Sans', Arial, sans-serif" font-size="26.2" font-weight="bold" fill="#231f20">200</text>
<text transform="translate(87.49,1587.36) scale(1.0,1.04)" font-family="'Liberation Sans', Arial, sans-serif" font-size="26.2" font-weight="bold" fill="#231f20">150</text>
<text transform="translate(87.49,1635.24) scale(1.0,1.04)" font-family="'Liberation Sans', Arial, sans-serif" font-size="26.2" font-weight="bold" fill="#231f20">100</text>
<text transform="translate(102.03,1683.12) scale(1.0,1.04)" font-family="'Liberation Sans', Arial, sans-serif" font-size="26.2" font-weight="bold" fill="#231f20">50</text>
<text transform="translate(116.58,1731) scale(1.0,1.04)" font-family="'Liberation Sans', Arial, sans-serif" font-size="26.2" font-weight="bold" fill="#231f20">0</text>
<line x1="174.8" y1="1640.7" x2="174.8" y2="1634.4" stroke="#231f20" stroke-width="3.1"/>
<line x1="166.5" y1="1634.4" x2="183.1" y2="1634.4" stroke="#231f20" stroke-width="3.2" stroke-linecap="round"/>
<rect x="160.1" y="1640.7" width="29.4" height="81.3" fill="#fff" stroke="#231f20" stroke-width="3.9" stroke-linejoin="round"/>
<rect x="162.8" y="1643.4" width="24.8" height="76.7" fill="#dfdfdf"/>
<line x1="174.8" y1="1722" x2="174.8" y2="1733.4" stroke="#231f20" stroke-width="3.1" stroke-linecap="round"/>
<line x1="234.3" y1="1512" x2="234.3" y2="1499.9" stroke="#231f20" stroke-width="3.1"/>
<line x1="226" y1="1499.9" x2="242.6" y2="1499.9" stroke="#231f20" stroke-width="3.2" stroke-linecap="round"/>
<rect x="219.6" y="1512" width="29.4" height="210" fill="#fff" stroke="#231f20" stroke-width="3.9" stroke-linejoin="round"/>
<rect x="222.3" y="1514.7" width="24.8" height="205.4" fill="#dfdfdf"/>
<line x1="234.3" y1="1722" x2="234.3" y2="1733.4" stroke="#231f20" stroke-width="3.1" stroke-linecap="round"/>
<line x1="293.9" y1="1620.6" x2="293.9" y2="1610.5" stroke="#231f20" stroke-width="3.1"/>
<line x1="285.6" y1="1610.5" x2="302.2" y2="1610.5" stroke="#231f20" stroke-width="3.2" stroke-linecap="round"/>
<rect x="279.2" y="1620.6" width="29.4" height="101.4" fill="#fff" stroke="#231f20" stroke-width="3.9" stroke-linejoin="round"/>
<rect x="281.9" y="1623.3" width="24.8" height="96.8" fill="#dfdfdf"/>
<line x1="293.9" y1="1722" x2="293.9" y2="1733.4" stroke="#231f20" stroke-width="3.1" stroke-linecap="round"/>
<line x1="353.9" y1="1635.9" x2="353.9" y2="1628.4" stroke="#231f20" stroke-width="3.1"/>
<line x1="345.6" y1="1628.4" x2="362.2" y2="1628.4" stroke="#231f20" stroke-width="3.2" stroke-linecap="round"/>
<rect x="339.2" y="1635.9" width="29.4" height="86.1" fill="#fff" stroke="#231f20" stroke-width="3.9" stroke-linejoin="round"/>
<rect x="341.9" y="1638.6" width="24.8" height="81.5" fill="#dfdfdf"/>
<line x1="353.9" y1="1722" x2="353.9" y2="1733.4" stroke="#231f20" stroke-width="3.1" stroke-linecap="round"/>
<line x1="413.6" y1="1615.1" x2="413.6" y2="1605.6" stroke="#231f20" stroke-width="3.1"/>
<line x1="405.3" y1="1605.6" x2="421.9" y2="1605.6" stroke="#231f20" stroke-width="3.2" stroke-linecap="round"/>
<rect x="398.9" y="1615.1" width="29.4" height="106.9" fill="#fff" stroke="#231f20" stroke-width="3.9" stroke-linejoin="round"/>
<rect x="401.6" y="1617.8" width="24.8" height="102.3" fill="#dfdfdf"/>
<line x1="413.6" y1="1722" x2="413.6" y2="1733.4" stroke="#231f20" stroke-width="3.1" stroke-linecap="round"/>
<line x1="473.4" y1="1638.7" x2="473.4" y2="1631.5" stroke="#231f20" stroke-width="3.1"/>
<line x1="465.1" y1="1631.5" x2="481.7" y2="1631.5" stroke="#231f20" stroke-width="3.2" stroke-linecap="round"/>
<rect x="458.7" y="1638.7" width="29.4" height="83.3" fill="#fff" stroke="#231f20" stroke-width="3.9" stroke-linejoin="round"/>
<rect x="461.4" y="1641.4" width="24.8" height="78.7" fill="#dfdfdf"/>
<line x1="473.4" y1="1722" x2="473.4" y2="1733.4" stroke="#231f20" stroke-width="3.1" stroke-linecap="round"/>
<line x1="135.1" y1="1722" x2="505.4" y2="1722" stroke="#231f20" stroke-width="3.3" stroke-linecap="round"/>
<text transform="translate(185.2,1760.3) rotate(-45) scale(1,1.04)" text-anchor="end" font-family="'Liberation Sans', Arial, sans-serif" font-size="28.3" font-weight="bold" fill="#231f20">CON</text>
<text transform="translate(244.7,1760.3) rotate(-45) scale(1,1.04)" text-anchor="end" font-family="'Liberation Sans', Arial, sans-serif" font-size="28.3" font-weight="bold" fill="#231f20">WT</text>
<text transform="translate(304.3,1760.3) rotate(-45) scale(1,1.04)" text-anchor="end" font-family="'Liberation Sans', Arial, sans-serif" font-size="28.3" font-weight="bold" fill="#231f20">G23R</text>
<text transform="translate(364.3,1760.3) rotate(-45) scale(1,1.04)" text-anchor="end" font-family="'Liberation Sans', Arial, sans-serif" font-size="28.3" font-weight="bold" fill="#231f20">D567Y</text>
<text transform="translate(424,1760.3) rotate(-45) scale(1,1.04)" text-anchor="end" font-family="'Liberation Sans', Arial, sans-serif" font-size="28.3" font-weight="bold" fill="#231f20">G860S</text>
<text transform="translate(483.8,1760.3) rotate(-45) scale(1,1.04)" text-anchor="end" font-family="'Liberation Sans', Arial, sans-serif" font-size="28.3" font-weight="bold" fill="#231f20">I1014V</text>
<text x="228.88" y="1476.08" font-family="'Liberation Sans', Arial, sans-serif" font-weight="bold" font-size="35" fill="#231f20">*</text>
<text x="290.2" y="1588.42" font-family="'Liberation Serif', 'Times New Roman', serif" font-size="30" fill="#000">#</text>
<text x="349.9" y="1608.73" font-family="'Liberation Serif', 'Times New Roman', serif" font-size="30" fill="#000">#</text>
<text x="409.7" y="1583.33" font-family="'Liberation Serif', 'Times New Roman', serif" font-size="30" fill="#000">#</text>
<text x="467.7" y="1607.12" font-family="'Liberation Serif', 'Times New Roman', serif" font-size="30" fill="#000">#</text>
<path d="M705.1 1485.4H715.1V1724.2" fill="none" stroke="#231f20" stroke-width="3.3" stroke-linejoin="round" stroke-linecap="round"/>
<line x1="705.1" y1="1565" x2="715.1" y2="1565" stroke="#231f20" stroke-width="3.3" stroke-linecap="round"/>
<line x1="705.1" y1="1644.6" x2="715.1" y2="1644.6" stroke="#231f20" stroke-width="3.3" stroke-linecap="round"/>
<line x1="705.1" y1="1724.2" x2="715.1" y2="1724.2" stroke="#231f20" stroke-width="3.3" stroke-linecap="round"/>
<text transform="translate(657.49,1494.4) scale(1.0,1.04)" font-family="'Liberation Sans', Arial, sans-serif" font-size="26.2" font-weight="bold" fill="#231f20">150</text>
<text transform="translate(657.49,1574) scale(1.0,1.04)" font-family="'Liberation Sans', Arial, sans-serif" font-size="26.2" font-weight="bold" fill="#231f20">100</text>
<text transform="translate(672.04,1653.6) scale(1.0,1.04)" font-family="'Liberation Sans', Arial, sans-serif" font-size="26.2" font-weight="bold" fill="#231f20">50</text>
<text transform="translate(686.58,1733.2) scale(1.0,1.04)" font-family="'Liberation Sans', Arial, sans-serif" font-size="26.2" font-weight="bold" fill="#231f20">0</text>
<line x1="751.2" y1="1552.9" x2="751.2" y2="1540.2" stroke="#231f20" stroke-width="3.1"/>
<line x1="742.9" y1="1540.2" x2="759.5" y2="1540.2" stroke="#231f20" stroke-width="3.2" stroke-linecap="round"/>
<rect x="734.2" y="1552.9" width="34" height="171.3" fill="#fff" stroke="#231f20" stroke-width="3.9" stroke-linejoin="round"/>
<rect x="736.9" y="1555.6" width="29.4" height="166.7" fill="#dfdfdf"/>
<line x1="751.2" y1="1724.2" x2="751.2" y2="1735.6" stroke="#231f20" stroke-width="3.1" stroke-linecap="round"/>
<line x1="822.6" y1="1618.6" x2="822.6" y2="1608.2" stroke="#231f20" stroke-width="3.1"/>
<line x1="814.3" y1="1608.2" x2="830.9" y2="1608.2" stroke="#231f20" stroke-width="3.2" stroke-linecap="round"/>
<rect x="805.6" y="1618.6" width="34" height="105.6" fill="#fff" stroke="#231f20" stroke-width="3.9" stroke-linejoin="round"/>
<rect x="808.3" y="1621.3" width="29.4" height="101" fill="#dfdfdf"/>
<line x1="822.6" y1="1724.2" x2="822.6" y2="1735.6" stroke="#231f20" stroke-width="3.1" stroke-linecap="round"/>
<line x1="894.6" y1="1628.1" x2="894.6" y2="1620.4" stroke="#231f20" stroke-width="3.1"/>
<line x1="886.3" y1="1620.4" x2="902.9" y2="1620.4" stroke="#231f20" stroke-width="3.2" stroke-linecap="round"/>
<rect x="877.6" y="1628.1" width="34" height="96.1" fill="#fff" stroke="#231f20" stroke-width="3.9" stroke-linejoin="round"/>
<rect x="880.3" y="1630.8" width="29.4" height="91.5" fill="#dfdfdf"/>
<line x1="894.6" y1="1724.2" x2="894.6" y2="1735.6" stroke="#231f20" stroke-width="3.1" stroke-linecap="round"/>
<line x1="966.5" y1="1614.2" x2="966.5" y2="1606.2" stroke="#231f20" stroke-width="3.1"/>
<line x1="958.2" y1="1606.2" x2="974.8" y2="1606.2" stroke="#231f20" stroke-width="3.2" stroke-linecap="round"/>
<rect x="949.5" y="1614.2" width="34" height="110" fill="#fff" stroke="#231f20" stroke-width="3.9" stroke-linejoin="round"/>
<rect x="952.2" y="1616.9" width="29.4" height="105.4" fill="#dfdfdf"/>
<line x1="966.5" y1="1724.2" x2="966.5" y2="1735.6" stroke="#231f20" stroke-width="3.1" stroke-linecap="round"/>
<line x1="1038.4" y1="1623.9" x2="1038.4" y2="1613" stroke="#231f20" stroke-width="3.1"/>
<line x1="1030.1" y1="1613" x2="1046.7" y2="1613" stroke="#231f20" stroke-width="3.2" stroke-linecap="round"/>
<rect x="1021.4" y="1623.9" width="34" height="100.3" fill="#fff" stroke="#231f20" stroke-width="3.9" stroke-linejoin="round"/>
<rect x="1024.1" y="1626.6" width="29.4" height="95.7" fill="#dfdfdf"/>
<line x1="1038.4" y1="1724.2" x2="1038.4" y2="1735.6" stroke="#231f20" stroke-width="3.1" stroke-linecap="round"/>
<line x1="705.1" y1="1724.2" x2="1076.8" y2="1724.2" stroke="#231f20" stroke-width="3.3" stroke-linecap="round"/>
<text transform="translate(761.6,1762.5) rotate(-45) scale(1,1.04)" text-anchor="end" font-family="'Liberation Sans', Arial, sans-serif" font-size="28.3" font-weight="bold" fill="#231f20">WT</text>
<text transform="translate(833,1762.5) rotate(-45) scale(1,1.04)" text-anchor="end" font-family="'Liberation Sans', Arial, sans-serif" font-size="28.3" font-weight="bold" fill="#231f20">G23R</text>
<text transform="translate(905,1762.5) rotate(-45) scale(1,1.04)" text-anchor="end" font-family="'Liberation Sans', Arial, sans-serif" font-size="28.3" font-weight="bold" fill="#231f20">D567Y</text>
<text transform="translate(976.9,1762.5) rotate(-45) scale(1,1.04)" text-anchor="end" font-family="'Liberation Sans', Arial, sans-serif" font-size="28.3" font-weight="bold" fill="#231f20">G860S</text>
<text transform="translate(1048.8,1762.5) rotate(-45) scale(1,1.04)" text-anchor="end" font-family="'Liberation Sans', Arial, sans-serif" font-size="28.3" font-weight="bold" fill="#231f20">I1014V</text>
<text x="819.07" y="1591.67" font-family="'Liberation Sans', Arial, sans-serif" font-weight="bold" font-size="35" fill="#231f20">*</text>
<text x="888.38" y="1595.08" font-family="'Liberation Sans', Arial, sans-serif" font-weight="bold" font-size="35" fill="#231f20">*</text>
<text x="959.97" y="1582.38" font-family="'Liberation Sans', Arial, sans-serif" font-weight="bold" font-size="35" fill="#231f20">*</text>
<text x="1032.88" y="1590.08" font-family="'Liberation Sans', Arial, sans-serif" font-weight="bold" font-size="35" fill="#231f20">*</text>
</svg>
</body></html>
